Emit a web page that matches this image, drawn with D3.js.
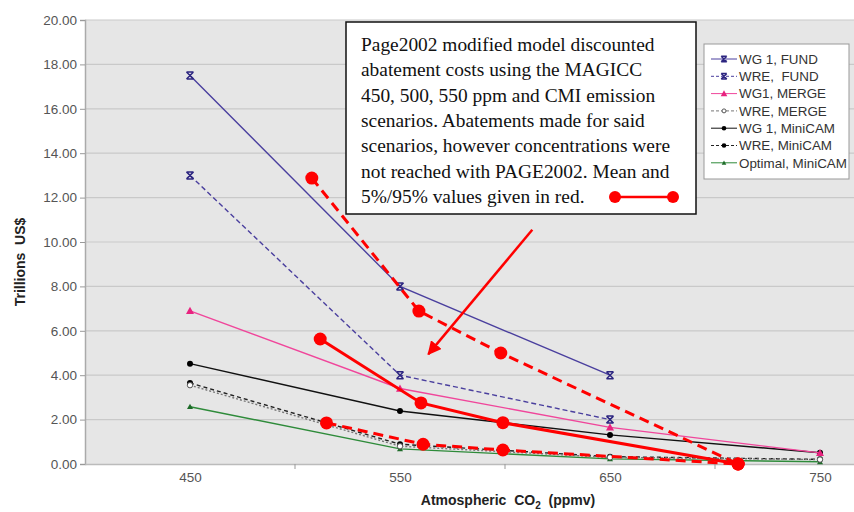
<!DOCTYPE html>
<html><head><meta charset="utf-8">
<script src="https://cdn.jsdelivr.net/npm/d3@7"></script>
<style>body{margin:0;background:#fff}svg{display:block}text{white-space:pre}</style>
</head><body><svg id="c" width="854" height="512"></svg>
<script>
// ---- data ----
const concentrations = [450, 550, 650, 750];
const yTicks = [0, 2, 4, 6, 8, 10, 12, 14, 16, 18, 20];
const wg1Fund = [17.5, 8.0, 4.0, null];
const wreFund = [13.0, 4.0, 2.0, null];
const wg1Merge = [6.9, 3.4, 1.65, 0.5];
const wreMerge = [3.55, 0.8, 0.3, 0.2];
const wg1MiniCAM = [4.52, 2.39, 1.31, 0.51];
const wreMiniCAM = [3.65, 0.89, 0.33, 0.21];
const optimalMiniCAM = [2.58, 0.68, 0.23, 0.1];
const pageMeanX = [512, 560, 599, 711];
const pageMean = [5.63, 2.75, 1.86, 0];
const page95X = [508, 559, 598, 711];
const page95 = [12.88, 6.89, 5.0, 0];
const page5X = [515, 561, 599, 711];
const page5 = [1.85, 0.89, 0.63, 0];
const noteLines = [
  "Page2002 modified model discounted",
  "abatement costs using the MAGICC",
  "450, 500, 550 ppm and CMI emission",
  "scenarios. Abatements made for said",
  "scenarios, however concentrations were",
  "not reached with PAGE2002. Mean and",
  "5%/95% values given in red."
];

const series = [
  {name:"WG 1, FUND", values:wg1Fund, color:"#4a3f9e", dash:null, marker:"x", mcolor:"#2c2580"},
  {name:"WRE,  FUND", values:wreFund, color:"#4a3f9e", dash:"5,3", marker:"x", mcolor:"#2c2580"},
  {name:"WG1, MERGE", values:wg1Merge, color:"#f0469b", dash:null, marker:"tri", mcolor:"#e8237f"},
  {name:"WRE, MERGE", values:wreMerge, color:"#777", dash:"2,2", marker:"ocircle", mcolor:"#555"},
  {name:"WG 1, MiniCAM", values:wg1MiniCAM, color:"#111", dash:null, marker:"circle", mcolor:"#000"},
  {name:"WRE, MiniCAM", values:wreMiniCAM, color:"#222", dash:"4,3", marker:"circle", mcolor:"#000"},
  {name:"Optimal, MiniCAM", values:optimalMiniCAM, color:"#2e8b3a", dash:null, marker:"stri", mcolor:"#1d6b28"}
];

// ---- layout ----
const svg = d3.select("#c");
const x = d3.scaleLinear().domain([400, 800]).range([85, 925]);
const y = d3.scaleLinear().domain([0, 20]).range([464, 20]);

svg.append("rect").attr("x", 85).attr("y", y(20)).attr("width", 854-85).attr("height", y(0)-y(20)).attr("fill", "#e6e6e6");

// gridlines
svg.append("g").selectAll("line").data(yTicks.filter(d=>d>0)).join("line")
  .attr("x1", 85).attr("x2", 854).attr("y1", d=>y(d)).attr("y2", d=>y(d))
  .attr("stroke", "#c9c9c9").attr("stroke-width", 1.2);

// y axis
const yAxis = svg.append("g").attr("transform", "translate(85,0)")
  .call(d3.axisLeft(y).tickValues(yTicks).tickFormat(d3.format(".2f")).tickSize(5).tickPadding(3));
yAxis.select(".domain").attr("stroke", "#aaa").attr("stroke-width", 1.5);
yAxis.selectAll(".tick line").attr("stroke", "#999");
yAxis.selectAll("text").attr("font-family", "Liberation Sans, Arial, sans-serif").attr("font-size", 13.5).attr("fill", "#555");

// x axis
const xAxis = svg.append("g").attr("transform", "translate(0,464)")
  .call(d3.axisBottom(x).tickValues(concentrations).tickSize(0).tickPadding(8));
xAxis.select(".domain").attr("stroke", "#bbb").attr("stroke-width", 1.5);
xAxis.selectAll("text").attr("font-family", "Liberation Sans, Arial, sans-serif").attr("font-size", 13.5).attr("fill", "#555");
svg.append("g").selectAll("line").data([500, 600, 700]).join("line")
  .attr("x1", d=>x(d)).attr("x2", d=>x(d)).attr("y1", 464).attr("y2", 469).attr("stroke", "#999");

// axis titles
svg.append("text").attr("transform", "translate(25,262) rotate(-90)").attr("text-anchor", "middle")
  .attr("font-family", "Liberation Sans, Arial, sans-serif").attr("font-weight", "bold").attr("font-size", 14).attr("fill", "#222")
  .text("Trillions  US$");
const xt = svg.append("text").attr("x", 508).attr("y", 505).attr("text-anchor", "middle")
  .attr("font-family", "Liberation Sans, Arial, sans-serif").attr("font-weight", "bold").attr("font-size", 14).attr("fill", "#222");
xt.append("tspan").text("Atmospheric  CO");
xt.append("tspan").attr("font-size", 10).attr("dy", 4).text("2");
xt.append("tspan").attr("dy", -4).text("  (ppmv)");

// markers
function drawMarker(g, type, color, s) {
  if (type === "x") {
    g.append("path").attr("d", `M${-s},${-s}L${s},${s}M${s},${-s}L${-s},${s}M${-s},${-s}L${s},${-s}M${-s},${s}L${s},${s}`)
      .attr("stroke", color).attr("stroke-width", 1.5).attr("fill", "none");
  } else if (type === "tri" || type === "stri") {
    const r = type === "tri" ? s+0.5 : s-0.5;
    g.append("path").attr("d", `M0,${-r}L${r},${r*0.8}L${-r},${r*0.8}Z`).attr("fill", color);
  } else if (type === "circle") {
    g.append("circle").attr("r", s-0.5).attr("fill", color);
  } else if (type === "ocircle") {
    g.append("circle").attr("r", s-0.8).attr("fill", "#fff").attr("stroke", color).attr("stroke-width", 1);
  }
}

const line = d3.line().defined(d=>d[1] != null).x(d=>x(d[0])).y(d=>y(d[1]));
[...series].reverse().forEach(s => {
  const pts = concentrations.map((c,i)=>[c, s.values[i]]);
  svg.append("path").attr("d", line(pts)).attr("fill", "none").attr("stroke", s.color)
    .attr("stroke-width", 1.4).attr("stroke-dasharray", s.dash);
  pts.filter(p=>p[1]!=null).forEach(p => {
    const g = svg.append("g").attr("transform", `translate(${x(p[0])},${y(p[1])})`);
    drawMarker(g, s.marker, s.mcolor, 3.5);
  });
});

// PAGE2002 red series
const redSets = [
  {xs:page95X, vs:page95, dash:"10,6"},
  {xs:page5X, vs:page5, dash:"10,6"},
  {xs:pageMeanX, vs:pageMean, dash:null}
];
redSets.forEach(r => {
  const pts = r.xs.map((xx,i)=>[xx, r.vs[i]]);
  svg.append("path").attr("d", line(pts)).attr("fill", "none").attr("stroke", "#ff0000")
    .attr("stroke-width", 3).attr("stroke-dasharray", r.dash);
});
redSets.forEach(r => {
  svg.append("g").selectAll("circle").data(r.xs.map((xx,i)=>[xx, r.vs[i]])).join("circle")
    .attr("cx", d=>x(d[0])).attr("cy", d=>y(d[1])).attr("r", 6.5).attr("fill", "#ff0000");
});

// arrow
const arrowFrom = [613, 10.55], arrowTo = [563.5, 4.95];
svg.append("defs").append("marker").attr("id", "ah").attr("viewBox", "0 0 10 10").attr("refX", 9).attr("refY", 5)
  .attr("markerWidth", 5.5).attr("markerHeight", 5.5).attr("markerUnits", "strokeWidth").attr("orient", "auto")
  .append("path").attr("d", "M0,0L10,5L0,10Z").attr("fill", "#ff0000");
svg.append("line").attr("x1", x(arrowFrom[0])).attr("y1", y(arrowFrom[1])).attr("x2", x(arrowTo[0])).attr("y2", y(arrowTo[1]))
  .attr("stroke", "#ff0000").attr("stroke-width", 2.5).attr("marker-end", "url(#ah)");

// annotation box
const nb = svg.append("g");
nb.append("rect").attr("x", 346).attr("y", 22).attr("width", 350).attr("height", 192)
  .attr("fill", "#fff").attr("stroke", "#111").attr("stroke-width", 1.5);
nb.selectAll("text").data(noteLines).join("text")
  .attr("x", 361).attr("y", (d,i)=>51 + i*25.3)
  .attr("font-family", "Liberation Serif, Times New Roman, serif").attr("font-size", 19.4).attr("fill", "#111")
  .text(d=>d);
nb.append("line").attr("x1", 615).attr("x2", 673).attr("y1", 197).attr("y2", 197).attr("stroke", "#ff0000").attr("stroke-width", 2.5);
nb.selectAll("circle").data([615, 673]).join("circle").attr("cx", d=>d).attr("cy", 197).attr("r", 6).attr("fill", "#ff0000");

// legend
const lg = svg.append("g");
lg.append("rect").attr("x", 704).attr("y", 44).attr("width", 145).attr("height", 135)
  .attr("fill", "#fff").attr("stroke", "#999").attr("stroke-width", 1);
series.forEach((s,i) => {
  const cy = 59 + i*17.3;
  lg.append("line").attr("x1", 711).attr("x2", 737).attr("y1", cy).attr("y2", cy)
    .attr("stroke", s.color).attr("stroke-width", 1).attr("stroke-dasharray", s.dash ? "3,2" : null);
  const g = lg.append("g").attr("transform", `translate(724,${cy})`);
  drawMarker(g, s.marker, s.mcolor, 2.8);
  lg.append("text").attr("x", 739).attr("y", cy+4.8).attr("font-family", "Liberation Sans, Arial, sans-serif")
    .attr("font-size", 13.4).attr("fill", "#333").text(s.name);
});
</script></body></html>
